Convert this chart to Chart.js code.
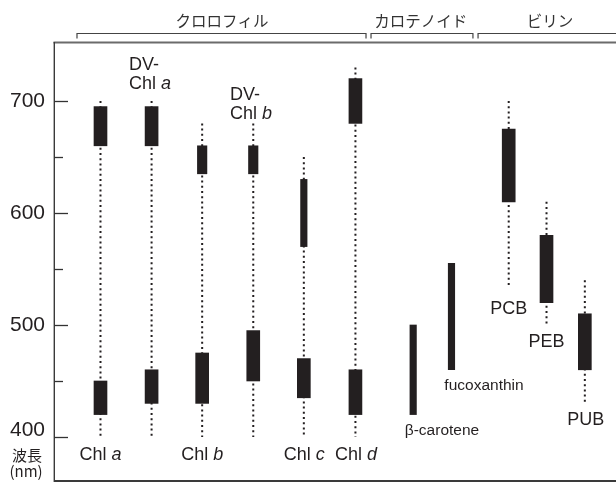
<!DOCTYPE html>
<html>
<head>
<meta charset="utf-8">
<script src="https://cdn.jsdelivr.net/npm/chart.js@4.4.1/dist/chart.umd.min.js"></script>
<style>
  html, body { margin: 0; padding: 0; background: #fff; }
  #wrap { width: 616px; height: 484px; }
</style>
</head>
<body>
<div id="wrap"><canvas id="chart" width="616" height="484"></canvas></div>
<script>
// --- data (nm) ---
const pigments = ['Chl a', 'DV-Chl a', 'Chl b', 'DV-Chl b', 'Chl c', 'Chl d',
                  'β-carotene', 'fucoxanthin', 'PCB', 'PEB', 'PUB'];
const groups = ['クロロフィル', 'カロテノイド', 'ビリン'];
const dotTop    = [700, 700, 680, 680, 650, 730, null, null, 700, 610, 540];
const dotBottom = [400, 400, 400, 400, 400, 400, null, null, 533, 500, 430];
const longBand  = [[660, 695], [660, 695], [635, 660], [635, 660], [570, 630], [680, 720],
                   null, null, [610, 675], [520, 580], [460, 510]];
const shortBand = [[420, 450], [430, 460], [430, 475], [450, 495], [435, 470], [420, 460],
                   [420, 500], [460, 555], null, null, null];
const yTicks = [400, 450, 500, 550, 600, 650, 700];

// --- layout / style ---
const INK = '#231f20';
const LATIN = '"Liberation Sans", Arial, Helvetica, sans-serif';
const CJK = '"Noto Sans CJK JP", "Noto Sans", sans-serif';
const slots = [0.91, 1.91, 2.9, 3.9, 4.89, 5.9, 7.03, 7.78, 8.9, 9.64, 10.39];
const longWidth  = [13, 13, 9.5, 9.5, 6.5, 13, 0, 0, 13, 13, 13];
const shortWidth = [13, 13, 13, 13, 13, 13, 6.5, 6.5, 0, 0, 0];
// label anchors in data units (x slot units, y nm)
const labelSpots = [
  { x: 0.91, y: 384, align: 'center', size: 18 },
  { x: 1.468, y: 732, align: 'left', size: 18 },
  { x: 2.9, y: 384, align: 'center', size: 18 },
  { x: 3.445, y: 705, align: 'left', size: 18 },
  { x: 4.9, y: 384, align: 'center', size: 18 },
  { x: 5.91, y: 384, align: 'center', size: 18 },
  { x: 7.594, y: 406, align: 'center', size: 15.5 },
  { x: 8.416, y: 445.5, align: 'center', size: 15.5 },
  { x: 8.9, y: 514, align: 'center', size: 18 },
  { x: 9.64, y: 485, align: 'center', size: 18 },
  { x: 10.41, y: 415, align: 'center', size: 18 }
];
const brackets = [[0.45, 6.107, 3.288], [6.205, 8.2, 7.18], [8.3, 11.4, 9.708]];

// --- datasets ---
const bands = [];
pigments.forEach((p, i) => {
  if (longBand[i]) bands.push({ x: slots[i], y: longBand[i], w: longWidth[i] });
  if (shortBand[i]) bands.push({ x: slots[i], y: shortBand[i], w: shortWidth[i] });
});
const widths = [...new Set(bands.map(b => b.w))];
const barSets = widths.map(w => ({
  type: 'bar',
  data: bands.filter(b => b.w === w).map(b => ({ x: b.x, y: b.y })),
  barThickness: w,
  backgroundColor: INK,
  borderWidth: 0,
  grouped: false,
  order: 1
}));
const dotSets = pigments.map((p, i) => dotTop[i] == null ? null : ({
  type: 'line',
  data: [{ x: slots[i], y: dotTop[i] }, { x: slots[i], y: dotBottom[i] }],
  borderColor: INK,
  borderWidth: 2,
  borderDash: [2, 3.2],
  pointRadius: 0,
  fill: false,
  order: 2
})).filter(Boolean);

function richParts(name) {
  // italic suffix letter for chlorophyll names, DV- on its own line
  const m = name.match(/^(DV-)?Chl ([abcd])$/);
  if (!m) return [[{ t: name }]];
  const line = [{ t: 'Chl ' }, { t: m[2], it: true }];
  return m[1] ? [[{ t: 'DV-' }], line] : [line];
}

function drawRich(ctx, parts, x, y, align, size) {
  const fontOf = p => (p.it ? 'italic ' : '') + size + 'px ' + LATIN;
  let total = 0;
  parts.forEach(p => { ctx.font = fontOf(p); total += ctx.measureText(p.t).width; });
  let cx = align === 'center' ? x - total / 2 : x;
  ctx.textAlign = 'left';
  ctx.textBaseline = 'middle';
  parts.forEach(p => {
    ctx.font = fontOf(p);
    ctx.fillText(p.t, cx, y);
    cx += ctx.measureText(p.t).width;
  });
}

const decor = {
  id: 'decor',
  beforeDatasetsDraw(chart) {
    const { ctx, chartArea: a, scales: { x, y } } = chart;
    ctx.save();
    ctx.strokeStyle = '#6b6b6b';
    ctx.lineWidth = 2;
    ctx.beginPath(); ctx.moveTo(a.left - 0.5, a.top + 0.5); ctx.lineTo(a.right + 2, a.top + 0.5); ctx.stroke();
    ctx.strokeStyle = '#3a3a3a';
    ctx.lineWidth = 1.4;
    ctx.beginPath(); ctx.moveTo(a.left + 0.3, a.top); ctx.lineTo(a.left + 0.3, a.bottom + 1); ctx.stroke();
    ctx.lineWidth = 1.8;
    ctx.beginPath(); ctx.moveTo(a.left, a.bottom); ctx.lineTo(a.right + 2, a.bottom); ctx.stroke();
    // inward tick marks
    ctx.strokeStyle = '#333';
    ctx.lineWidth = 1.3;
    yTicks.forEach(v => {
      const py = Math.round(y.getPixelForValue(v)) + 0.5;
      const len = v % 100 === 0 ? 14 : 9;
      ctx.beginPath(); ctx.moveTo(a.left, py); ctx.lineTo(a.left + len, py); ctx.stroke();
    });
    // group brackets
    ctx.strokeStyle = '#444';
    ctx.lineWidth = 1.2;
    brackets.forEach(([s, e]) => {
      const x0 = x.getPixelForValue(s), x1 = x.getPixelForValue(e);
      ctx.beginPath();
      ctx.moveTo(x0, 38.5); ctx.lineTo(x0, 33.5); ctx.lineTo(x1, 33.5); ctx.lineTo(x1, 38.5);
      ctx.stroke();
    });
    ctx.fillStyle = '#333';
    ctx.font = '15.5px ' + CJK;
    ctx.textAlign = 'center';
    ctx.textBaseline = 'middle';
    brackets.forEach((b, i) => ctx.fillText(groups[i], x.getPixelForValue(b[2]), 21));
    // axis title
    ctx.fillStyle = INK;
    ctx.font = '15px ' + CJK;
    ctx.fillText('波長', 27, 455);
    ctx.fillText('(nm)', 26, 471);
    ctx.restore();
  },
  afterDatasetsDraw(chart) {
    const { ctx, scales: { x, y } } = chart;
    ctx.save();
    ctx.fillStyle = INK;
    pigments.forEach((name, i) => {
      const s = labelSpots[i];
      const px = x.getPixelForValue(s.x);
      const py = y.getPixelForValue(s.y);
      richParts(name).forEach((line, k) => drawRich(ctx, line, px, py + k * 19, s.align, s.size));
    });
    ctx.restore();
  }
};

new Chart(document.getElementById('chart'), {
  type: 'bar',
  data: { datasets: [...dotSets, ...barSets] },
  options: {
    responsive: false,
    devicePixelRatio: 1,
    animation: false,
    events: [],
    layout: { padding: { top: 42, bottom: 3, left: 0, right: 0 } },
    plugins: { legend: { display: false }, tooltip: { enabled: false } },
    scales: {
      x: {
        type: 'linear',
        min: 0,
        max: 11,
        offset: false,
        display: false
      },
      y: {
        type: 'linear',
        min: 360.7,
        max: 752.68,
        afterBuildTicks: scale => { scale.ticks = yTicks.map(v => ({ value: v })); },
        afterFit: scale => {
          scale.width = 54;
          scale.paddingTop = 0;
          scale.paddingBottom = 0;
        },
        grid: { display: false, drawTicks: false },
        border: { display: false },
        ticks: {
          padding: 9,
          color: INK,
          autoSkip: false,
          font: ctx => ({ family: LATIN, size: 21, lineHeight: ctx.tick && ctx.tick.value === 400 ? 0.6 : 1.2 }),
          callback: v => v % 100 === 0 ? (v === 400 ? [String(v), ''] : String(v)) : ''
        }
      }
    }
  },
  plugins: [decor]
});
</script>
</body>
</html>
